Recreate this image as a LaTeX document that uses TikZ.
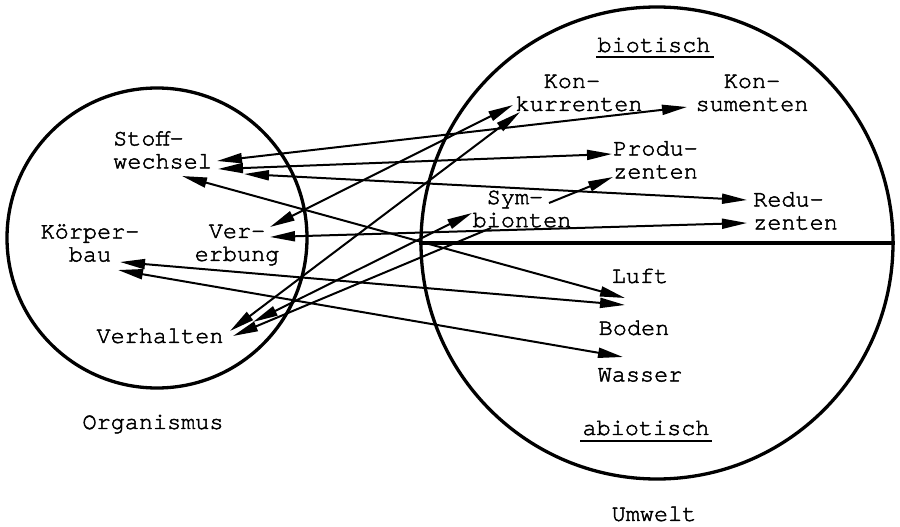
\documentclass[tikz,border=0pt]{standalone}
\usepackage{fontspec}
\setmainfont{TeX Gyre Cursor}[FakeBold=2]
\usetikzlibrary{arrows.meta}
\begin{document}
\begin{tikzpicture}[x=1pt,y=-1pt,
  lbl/.style={inner sep=0pt, font=\fontsize{23.5}{23}\selectfont},
  ring/.style={circle, draw, line width=3.3pt, inner sep=0pt},
  link/.style={line width=2pt, {Triangle[length=25pt,width=10pt]}-{Triangle[length=25pt,width=10pt]}},
  onelink/.style={line width=2pt, -{Triangle[length=25pt,width=10pt]}},
  ul/.style={line width=2.5pt}]
\useasboundingbox (0,0) rectangle (900,527);

% circles
\node[ring, minimum size=300pt] (orgc) at (157,238) {};
\node[ring, minimum size=472pt] (umwc) at (657,243) {};
\draw[line width=3.3pt] (umwc.west) -- (umwc.east);

% organism labels
\node[lbl, align=left, anchor=west] (stoff) at (113,150) {Stoff-\\wechsel};
\node[lbl, align=center] (koerper) at (90,243) {Körper-\\bau};
\node[lbl, align=center] (vererb) at (237,245) {Ver-\\erbung};
\node[lbl] (verh) at (160,336) {Verhalten};
\node[lbl] (org) at (153,424) {Organismus};

% environment labels
\node[lbl] (biot) at (654,45) {biotisch};
\node[lbl, align=center] (konk) at (579,93) {Kon-\phantom{x}\\kurrenten};
\node[lbl, align=center] (kons) at (752,93) {Kon-\\sumenten};
\node[lbl, align=left, anchor=west] (prod) at (613,160) {Produ-\\zenten};
\node[lbl, align=center] (sym) at (522,209) {Sym-\phantom{x}\\bionten};
\node[lbl, align=left, anchor=west] (redu) at (753,211) {Redu-\\zenten};
\node[lbl] (luft) at (640,276) {Luft};
\node[lbl] (boden) at (634,328) {Boden};
\node[lbl] (wasser) at (640,375) {Wasser};
\node[lbl] (abiot) at (646,428) {abiotisch};
\node[lbl] (umwelt) at (654,514) {Umwelt};

% underlines
\draw[ul] ([xshift=-1pt,yshift=-5pt]biot.base west) -- ([xshift=3pt,yshift=-5pt]biot.base east);
\draw[ul] ([xshift=-2pt,yshift=-6pt]abiot.base west) -- ([xshift=2pt,yshift=-6pt]abiot.base east);

% arrow end points
\coordinate (stoffA) at (217,161);
\coordinate (stoffB) at (218,169);
\coordinate (stoffC) at (244,174);
\coordinate (stoffD) at (182,176);
\coordinate (koerA) at (120,262);
\coordinate (koerB) at (118,270);
\coordinate (verA) at (270,227);
\coordinate (verB) at (270,237);
\coordinate (verhA) at (230,331);
\coordinate (verhB) at (253,322);
\coordinate (verhC) at (233,336);
\coordinate (konsA) at (687,107);
\coordinate (prodA) at (612,154);
\coordinate (prodB) at (613,177);
\coordinate (reduA) at (747,200);
\coordinate (reduB) at (747,223);
\coordinate (luftA) at (625,298);
\coordinate (bodenA) at (625,305);
\coordinate (wasserA) at (623,357);
\coordinate (konkA) at (513,105);
\coordinate (konkB) at (520,112);
\coordinate (symA) at (472,213);
\coordinate (symB) at (491,228);
\coordinate (symC) at (549,203);

% connectors
\draw[link] (stoffA) -- (konsA);
\draw[link] (stoffB) -- (prodA);
\draw[link] (stoffC) -- (reduA);
\draw[link] (stoffD) -- (luftA);
\draw[link] (koerA) -- (bodenA);
\draw[link] (koerB) -- (wasserA);
\draw[link] (verA) -- (konkA);
\draw[link] (verB) -- (reduB);
\draw[link] (verhA) -- (konkB);
\draw[link] (verhB) -- (symA);
\draw[onelink] (symB) -- (verhC);
\draw[onelink] (symC) -- (prodB);
\end{tikzpicture}
\end{document}
